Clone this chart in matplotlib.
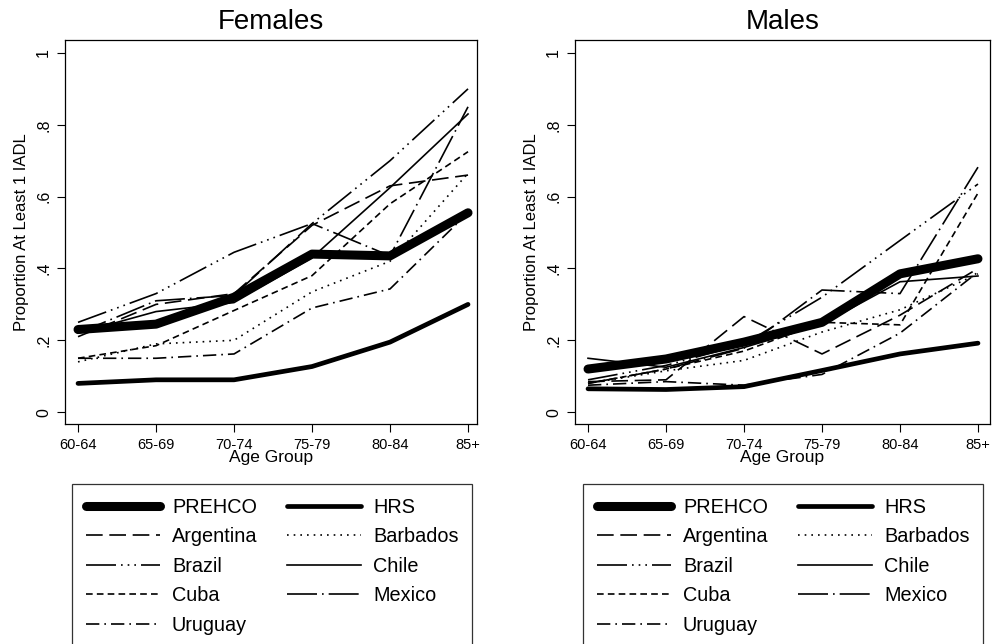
import numpy as np
import matplotlib.pyplot as plt
from matplotlib.lines import Line2D

plt.rcParams['font.family'] = ['Liberation Sans', 'DejaVu Sans']

ages = ['60-64', '65-69', '70-74', '75-79', '80-84', '85+']
yticks = [0, 0.2, 0.4, 0.6, 0.8, 1.0]
ytick_labels = ['0', '.2', '.4', '.6', '.8', '1']

# females
f_prehco = [0.23, 0.245, 0.32, 0.44, 0.435, 0.555]
f_hrs = [0.08, 0.09, 0.09, 0.127, 0.195, 0.30]
f_argentina = [0.21, 0.30, 0.33, 0.52, 0.63, 0.66]
f_barbados = [0.14, 0.19, 0.20, 0.335, 0.42, 0.665]
f_brazil = [0.25, 0.33, 0.445, 0.525, 0.70, 0.90]
f_chile = [0.22, 0.28, 0.305, 0.43, 0.625, 0.83]
f_cuba = [0.15, 0.185, 0.283, 0.38, 0.58, 0.725]
f_mexico = [0.22, 0.31, 0.325, 0.525, 0.435, 0.85]
f_uruguay = [0.15, 0.15, 0.162, 0.29, 0.343, 0.555]

# males
m_prehco = [0.12, 0.148, 0.195, 0.25, 0.385, 0.427]
m_hrs = [0.065, 0.063, 0.071, 0.116, 0.162, 0.192]
m_argentina = [0.085, 0.09, 0.266, 0.162, 0.27, 0.40]
m_barbados = [0.08, 0.115, 0.144, 0.223, 0.285, 0.385]
m_brazil = [0.09, 0.13, 0.19, 0.32, 0.478, 0.635]
m_chile = [0.15, 0.125, 0.18, 0.245, 0.363, 0.379]
m_cuba = [0.08, 0.12, 0.17, 0.25, 0.243, 0.61]
m_mexico = [0.08, 0.12, 0.178, 0.34, 0.33, 0.682]
m_uruguay = [0.075, 0.085, 0.075, 0.105, 0.22, 0.39]

names = ['PREHCO', 'HRS', 'Argentina', 'Barbados', 'Brazil', 'Chile', 'Cuba', 'Mexico', 'Uruguay']
females = [f_prehco, f_hrs, f_argentina, f_barbados, f_brazil, f_chile, f_cuba, f_mexico, f_uruguay]
males = [m_prehco, m_hrs, m_argentina, m_barbados, m_brazil, m_chile, m_cuba, m_mexico, m_uruguay]

thin = 1.2
styles = {
    'PREHCO': dict(lw=6.5, ls='-', solid_capstyle='round', solid_joinstyle='round'),
    'HRS': dict(lw=3.4, ls='-', solid_capstyle='round', solid_joinstyle='round'),
    'Argentina': dict(lw=thin, ls=(0, (10, 4))),
    'Barbados': dict(lw=thin, ls=(0, (1, 3))),
    'Brazil': dict(lw=thin, ls=(0, (18, 3, 1, 3, 1, 3, 1, 3))),
    'Chile': dict(lw=thin, ls='-'),
    'Cuba': dict(lw=thin, ls=(0, (4, 2.5))),
    'Mexico': dict(lw=thin, ls=(0, (18, 3, 1, 3))),
    'Uruguay': dict(lw=thin, ls=(0, (8, 3, 1, 3))),
}

fig = plt.figure(figsize=(9.93, 6.44), dpi=100)
W, H = 993, 644
narrow = ['Liberation Sans Narrow', 'Liberation Sans']

panels = [
    ('Females', females, (65, 477), -0.167, 5.115, 72, 472),
    ('Males', males, (575, 990), -0.167, 5.154, 583, 983),
]

x = np.arange(len(ages))
for title, data, (px0, px1), xl0, xl1, lg0, lg1 in panels:
    ax = fig.add_axes([px0 / W, 1 - 424 / H, (px1 - px0) / W, (424 - 40) / H])
    for name, vals in zip(names, data):
        ax.plot(x, vals, color='black', label=name, **styles[name])
    ax.set_xlim(xl0, xl1)
    ax.set_ylim(-0.033, 1.036)
    ax.set_xticks(x)
    ax.set_xticklabels(ages, family=narrow, fontsize=10.5)
    ax.set_yticks(yticks)
    ax.set_yticklabels(ytick_labels, rotation=90, va='center', fontsize=11.5)
    ax.tick_params(length=6, width=0.8, color='black', pad=4)
    ax.set_xlabel('Age Group', fontsize=12.5, labelpad=-1.5, family=narrow)
    ax.set_ylabel('Proportion At Least 1 IADL', fontsize=12, labelpad=5)
    ax.set_title(title, fontsize=20, pad=8)
    for s in ax.spines.values():
        s.set_linewidth(0.9)

    # column-wise legend order so rows read PREHCO/HRS, Argentina/Barbados, ...
    order = [0, 2, 4, 6, 8, 1, 3, 5, 7]
    handles = [Line2D([], [], color='black', **styles[names[i]]) for i in order]
    labels = [names[i] for i in order]
    leg = ax.legend(handles, labels, ncol=2, loc='upper left',
                    bbox_to_anchor=((lg0 - px0) / (px1 - px0), (424 - 484) / 384,
                                    (lg1 - lg0) / (px1 - px0), 0),
                    mode='expand', frameon=True, fancybox=False, edgecolor='black',
                    fontsize=14.3, handlelength=3.75, handletextpad=0.6,
                    columnspacing=1.0, labelspacing=0.53, borderpad=0.68,
                    borderaxespad=0)
    leg.get_frame().set_linewidth(0.9)

fig.savefig('out.png', dpi=100)
